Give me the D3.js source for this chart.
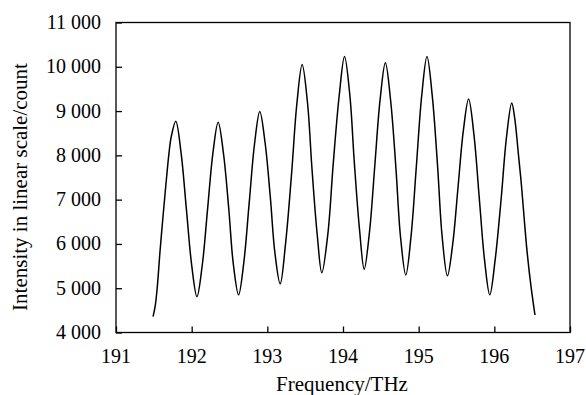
<!DOCTYPE html>
<html>
<head>
<meta charset="utf-8">
<script src="https://cdn.jsdelivr.net/npm/d3@7/dist/d3.min.js"></script>
<style>
  html, body { margin: 0; padding: 0; background: #fff; }
  svg { display: block; }
</style>
</head>
<body>
<svg id="chart" width="586" height="395"></svg>
<script>
// Frequency (THz) and intensity (counts)
const frequency = [
  191.49, 191.52, 191.546, 191.58, 191.617, 191.657, 191.70, 191.73, 191.79,
  191.86, 191.93, 192.00, 192.07,
  192.14, 192.21, 192.28, 192.35,
  192.42, 192.49, 192.55, 192.62,
  192.69, 192.76, 192.83, 192.90,
  192.97, 193.04, 193.10, 193.17,
  193.24, 193.32, 193.39, 193.46,
  193.53, 193.59, 193.66, 193.72,
  193.80, 193.87, 193.95, 194.02,
  194.09, 194.15, 194.22, 194.28,
  194.35, 194.42, 194.49, 194.56,
  194.63, 194.70, 194.76, 194.83,
  194.90, 194.97, 195.04, 195.11,
  195.18, 195.25, 195.31, 195.38,
  195.45, 195.52, 195.59, 195.66,
  195.73, 195.80, 195.87, 195.94,
  196.01, 196.09, 196.16, 196.23,
  196.27, 196.317, 196.36, 196.396, 196.435, 196.485, 196.537
];
const intensity = [
  4360, 4620, 5034, 5795, 6540, 7292, 8046, 8420, 8770,
  8057, 6790, 5523, 4810,
  5519, 6780, 8041, 8750,
  8048, 6800, 5552, 4850,
  5595, 6920, 8245, 8990,
  8290, 7045, 5800, 5100,
  5991, 7575, 9159, 10050,
  9204, 7700, 6196, 5350,
  6228, 7790, 9352, 10230,
  9366, 7830, 6294, 5430,
  6269, 7760, 9251, 10090,
  9228, 7695, 6162, 5300,
  6187, 7765, 9343, 10230,
  9339, 7755, 6171, 5280,
  5998, 7275, 8552, 9270,
  8474, 7060, 5646, 4850,
  5629, 7015, 8401, 9180,
  8830, 8046, 7292, 6540, 5788, 5034, 4395
];
const xTicks = [191, 192, 193, 194, 195, 196, 197];
const yTicks = [4000, 5000, 6000, 7000, 8000, 9000, 10000, 11000];
const xTitle = "Frequency/THz";
const yTitle = "Intensity in linear scale/count";

const data = frequency.map((f, i) => ({ f, v: intensity[i] }));

const FONT = "Liberation Serif";
const svg = d3.select("#chart");
const mLeft = 116, mRight = 570, mTop = 22.5, mBottom = 332.5;

const x = d3.scaleLinear().domain([191, 197]).range([mLeft, mRight]);
const y = d3.scaleLinear().domain([4000, 11000]).range([mBottom, mTop]);

const locale = d3.formatLocale({ decimal: ".", thousands: "\u00a0", grouping: [3], currency: ["", ""] });
const fmt = locale.format(",d");

// frame
svg.append("rect")
  .attr("x", mLeft).attr("y", mTop)
  .attr("width", mRight - mLeft).attr("height", mBottom - mTop)
  .attr("fill", "none").attr("stroke", "#000").attr("stroke-width", 1.3);

// tick marks via d3 axes (labels drawn separately below)
const xAxis = svg.append("g")
  .attr("transform", `translate(0,${mBottom})`)
  .call(d3.axisBottom(x).tickValues(xTicks).tickFormat("")
    .tickSizeInner(-6).tickSizeOuter(0));
xAxis.select(".domain").remove();
xAxis.selectAll(".tick line").attr("stroke", "#000").attr("stroke-width", 1.3);
xAxis.selectAll(".tick text").remove();

const yAxis = svg.append("g")
  .attr("transform", `translate(${mLeft},0)`)
  .call(d3.axisLeft(y).tickValues(yTicks).tickFormat("")
    .tickSizeInner(-6).tickSizeOuter(0));
yAxis.select(".domain").remove();
yAxis.selectAll(".tick line").attr("stroke", "#000").attr("stroke-width", 1.3);
yAxis.selectAll(".tick text").remove();

// tick labels
svg.append("g").selectAll("text").data(xTicks).join("text")
  .attr("x", d => x(d)).attr("y", mBottom + 30.5)
  .attr("text-anchor", "middle")
  .attr("font-family", FONT).attr("font-size", 20).attr("fill", "#000")
  .text(d => String(d));

svg.append("g").selectAll("text").data(yTicks).join("text")
  .attr("x", mLeft - 15).attr("y", d => y(d) + 6.5)
  .attr("text-anchor", "end")
  .attr("font-family", FONT).attr("font-size", 20).attr("fill", "#000")
  .text(d => fmt(d));

// curve
const line = d3.line().x(d => x(d.f)).y(d => y(d.v)).curve(d3.curveCatmullRom.alpha(0.5));
svg.append("path").datum(data)
  .attr("d", line)
  .attr("fill", "none").attr("stroke", "#000").attr("stroke-width", 1.5)
  .attr("stroke-linejoin", "round");

// titles
svg.append("text")
  .attr("x", 342).attr("y", 390.5)
  .attr("text-anchor", "middle").attr("font-size", 21)
  .attr("font-family", FONT).attr("fill", "#000")
  .text(xTitle);

svg.append("text")
  .attr("transform", "translate(27,187) rotate(-90)")
  .attr("text-anchor", "middle").attr("font-size", 21)
  .attr("font-family", FONT).attr("fill", "#000")
  .text(yTitle);
</script>
</body>
</html>
